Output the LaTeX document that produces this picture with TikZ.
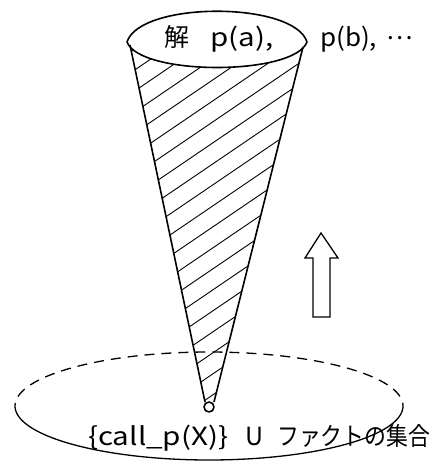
\documentclass[tikz,border=0pt]{standalone}
\usepackage{fontspec}
\setmainfont{Noto Sans CJK JP}
\usepackage{graphicx}
\begin{document}
\begin{tikzpicture}[x=1pt,y=-1pt,
  lbl/.style={inner sep=0pt,anchor=base west,font=\fontsize{25}{30}\selectfont},
  thick line/.style={line width=1.6pt,line join=round},
  hatchline/.style={line width=0.9pt}]
\useasboundingbox (0,0) rectangle (435,462);
% hatching inside cone
\begin{scope}
  \clip (130,45) -- (303,47) -- (214,402) -- (205,402) -- cycle;
  \foreach \k in {-12,...,20}{
    \pgfmathsetmacro{\b}{203.6+21*\k}
    \draw[hatchline] (100,{\b-0.68*100}) -- (340,{\b-0.68*340});
  }
\end{scope}
% top lens
\fill[white] (127,42) .. controls (140,1) and (294,1) .. (307,42) .. controls (294,76) and (140,76) .. (127,42);
% cone sides
\draw[thick line] (130,45) -- (205,402);
\draw[thick line] (303,47) -- (214,402);
\draw[thick line,fill=white] (209,407) circle (5);
\draw[thick line] (127,42) .. controls (140,1) and (294,1) .. (307,42) .. controls (294,76) and (140,76) .. (127,42) -- cycle;
% bottom ellipse
\draw[line width=1.3pt,dash pattern=on 10pt off 7pt] plot[domain=-7:180,samples=120,smooth] ({209+194*cos(\x)},{406-54*sin(\x)});
\draw[line width=1.3pt] plot[domain=180:353,samples=120,smooth] ({209+194*cos(\x)},{406-54*sin(\x)});
% block arrow
\draw[line width=1.3pt,line join=miter] (321,233) -- (338,258) -- (330,258) -- (330,317) -- (313,317) -- (313,258) -- (305,258) -- cycle;
% texts
\node[lbl] (kai) at (164,47) {解};
\node[lbl] (pa) at (210,47) {\resizebox{63pt}{\height}{p(a),}};
\node[lbl] (pb) at (320,47) {\resizebox{57pt}{\height}{p(b),}};
\node[lbl] (dots) at (386,47) {\raisebox{7pt}{⋯}};
\node[lbl] (call) at (88,445) {\resizebox{140pt}{\height}{\{call\_p(X)\}}};
\node[lbl] (u) at (245,445) {U};
\node[lbl] (fact) at (277,445) {\resizebox{153pt}{\height}{ファクトの集合}};
\end{tikzpicture}
\end{document}
